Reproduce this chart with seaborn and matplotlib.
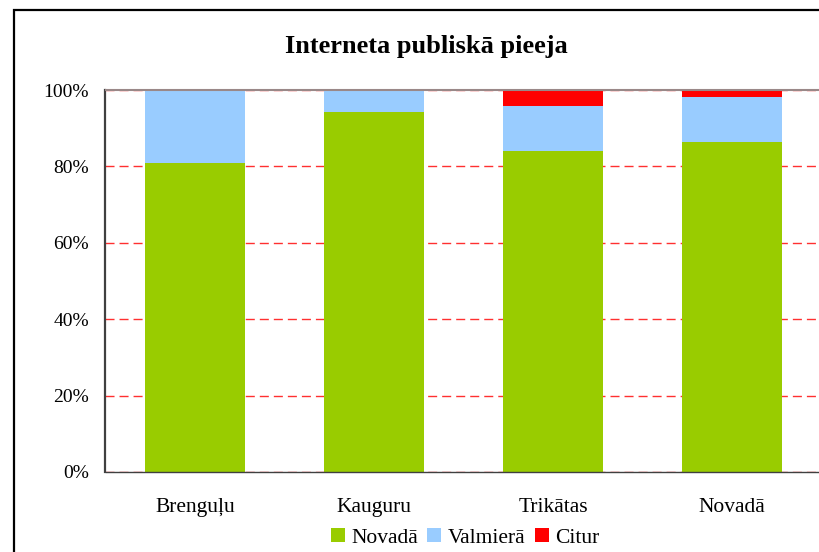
import numpy as np
import matplotlib
matplotlib.use("Agg")
import matplotlib.pyplot as plt
from matplotlib.patches import Patch, Rectangle
import seaborn as sns

sns.set_style("white")
plt.rcParams['font.family'] = ['Liberation Serif', 'DejaVu Serif']
plt.rcParams['text.color'] = 'black'
plt.rcParams['xtick.color'] = 'black'
plt.rcParams['ytick.color'] = 'black'

# data (percent)
categories = ["Brenguļu", "Kauguru", "Trikātas", "Novadā"]
series_names = ["Novadā", "Valmierā", "Citur"]
novada = [80.8, 94.2, 84.0, 86.4]
valmiera = [19.2, 5.8, 11.8, 11.8]
citur = [0.0, 0.0, 4.2, 1.8]
yticks = [0, 20, 40, 60, 80, 100]
ytick_labels = ["0%", "20%", "40%", "60%", "80%", "100%"]

colors = ["#99CC00", "#99CCFF", "#FF0000"]

fig = plt.figure(figsize=(8.2, 5.52), dpi=100)
ax = fig.add_axes([105.5 / 820, 1 - 472 / 552, 716 / 820, 382 / 552])

# stacked bars: draw cumulative totals, tallest first
lvl1 = np.array(novada)
lvl2 = lvl1 + np.array(valmiera)
lvl3 = lvl2 + np.array(citur)
for vals, col in [(lvl3, colors[2]), (lvl2, colors[1]), (lvl1, colors[0])]:
    sns.barplot(x=categories, y=vals, color=col, saturation=1, width=0.56,
                linewidth=0, ax=ax, zorder=2)

ax.set_xlim(-0.5, 3.5)
ax.set_ylim(0, 100)
ax.set_yticks(yticks)
ax.set_yticklabels(ytick_labels)
ax.set_xlabel("")
ax.set_ylabel("")
ax.tick_params(axis="y", length=0, pad=12, labelsize=14, labelcolor="black")
ax.tick_params(axis="x", length=0, pad=19, labelsize=15.5, labelcolor="black")

ax.set_axisbelow(True)
ax.yaxis.grid(True, color="#FF3030", linewidth=1, linestyle=(0, (6.5, 3.6)))
ax.xaxis.grid(False)

for s in ["left", "bottom"]:
    ax.spines[s].set_color("#404040")
ax.spines["left"].set_linewidth(1.6)
ax.spines["bottom"].set_linewidth(1.0)
ax.spines["top"].set_color("#9a8888")
ax.spines["top"].set_linewidth(1.5)
ax.spines["right"].set_visible(False)

fig.text(426 / 820, 1 - 46 / 552, "Interneta publiskā pieeja", ha="center",
         va="center", fontsize=19, fontweight="bold", color="black")

handles = [Patch(facecolor=c, edgecolor="none", label=n)
           for c, n in zip(colors, series_names)]
fig.legend(handles=handles, loc="center", bbox_to_anchor=(465 / 820, 1 - 538 / 552),
           ncol=3, frameon=False, fontsize=15.5, handlelength=0.65,
           handleheight=0.65, handletextpad=0.28, columnspacing=0.45,
           borderpad=0, borderaxespad=0, labelcolor="black")

# outer chart frame (runs off the right and bottom edge)
fig.patches.append(Rectangle((14 / 820, -0.2), 1.2, 1.2 - 10 / 552, fill=False,
                             edgecolor="black", linewidth=1.6,
                             transform=fig.transFigure, figure=fig))

fig.savefig("out.png", dpi=100)
